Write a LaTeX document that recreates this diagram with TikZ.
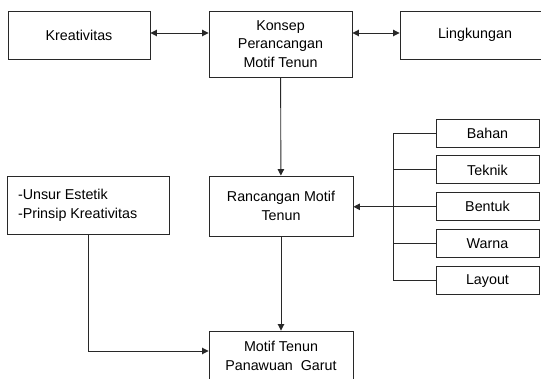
\documentclass[tikz,border=0pt]{standalone}
\usepackage{fontspec}
\setmainfont{Liberation Sans}
\usepackage{tikz}
\usetikzlibrary{arrows.meta,positioning}
\definecolor{edge}{RGB}{40,40,40}

\begin{document}
\begin{tikzpicture}[
  x=1pt,y=-1pt,
  font=\fontsize{14.3}{18.7}\selectfont,
  box/.style={draw=edge,line width=0.9pt,inner sep=0pt,align=center},
  sidebox/.style={box,minimum width=103pt,minimum height=28pt},
  ar/.style={-{Triangle[length=6.5pt,width=6.5pt]},draw=edge,line width=0.9pt},
  dar/.style={{Triangle[length=6.5pt,width=6.5pt]}-{Triangle[length=6.5pt,width=6.5pt]},draw=edge,line width=0.9pt},
  ln/.style={draw=edge,line width=0.9pt}
]
\useasboundingbox (0,0) rectangle (541,379);

% ---- top row
\node[box,minimum width=142pt,minimum height=48pt] (kreat) at (79,35) {Kreativitas};
\node[box,minimum width=143pt,minimum height=66pt] (konsep) at (280.5,44) {Konsep\\Perancangan\\Motif Tenun};
\node[box,minimum width=150pt,minimum height=48pt] (lingk) at (475,35) {Lingkungan};
\draw[dar] (kreat.east|-0,33) -- (konsep.west|-0,33);
\draw[dar] (konsep.east|-0,33) -- (lingk.west|-0,33);

% ---- middle row
\node[box,minimum width=162pt,minimum height=58pt,text width=140pt,align=flush left] (unsur) at (88,205) {-Unsur Estetik\\-Prinsip Kreativitas};
\node[box,minimum width=144pt,minimum height=60pt] (ranc) at (281,206) {Rancangan Motif\\Tenun};
\draw[ar] (konsep) -- (ranc);

% ---- aspects on the right
\node[sidebox] (bahan) at (487.5,133) {Bahan};
\node[sidebox,below=8pt of bahan] (teknik) {Teknik};
\node[sidebox,below=8pt of teknik] (bentuk) {Bentuk};
\node[sidebox,below=8pt of bentuk] (warna) {Warna};
\node[sidebox,below=8pt of warna] (layout) {Layout};
\coordinate (rail) at (393,0);
\draw[ln] (bahan.west) -- (bahan.west-|rail) -- (layout.west-|rail) -- (layout.west);
\draw[ln] (teknik.west) -- (teknik.west-|rail);
\draw[ln] (warna.west) -- (warna.west-|rail);
\draw[ar] (bentuk.west) -- (ranc.east|-bentuk.west);

% ---- result
\node[box,minimum width=144pt,minimum height=50pt] (motif) at (281,356) {Motif Tenun\\Panawuan\ \ Garut};
\draw[ar] (ranc) -- (motif);
\draw[ar] (unsur.south) |- ([yshift=5pt]motif.west);
\end{tikzpicture}
\end{document}
